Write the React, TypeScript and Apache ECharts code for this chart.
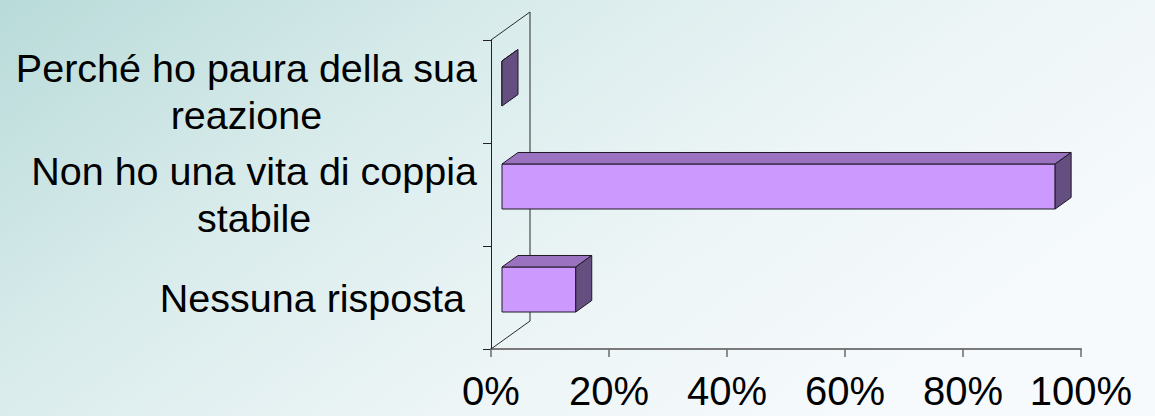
import React, { useEffect, useRef } from "react";
import * as echarts from "echarts";

const categories: string[] = [
  "Perché ho paura della sua\nreazione",
  "Non ho una vita di coppia\nstabile",
  "Nessuna risposta",
];
const values: number[] = [0, 93.75, 12.5];
const xTicks: number[] = [0, 20, 40, 60, 80, 100];

const FONT = "Liberation Sans, Arial, Helvetica, sans-serif";
const FRONT = "#CC99FF";
const TOP = "#9B72C0";
const SIDE = "#654E80";
const EDGE = "#1e1a24";

export default function App() {
  const ref = useRef<HTMLDivElement>(null);

  useEffect(() => {
    document.body.style.margin = "0";
    if (!ref.current) return;
    const chart = echarts.init(ref.current, null, { renderer: "svg" });

    const option: any = {
      animation: false,
      graphic: [
        {
          type: "rect",
          silent: true,
          z: -100,
          shape: { x: 0, y: 0, width: 1155, height: 416 },
          style: {
            fill: new echarts.graphic.LinearGradient(0, 0, 1, 0.5, [
              { offset: 0, color: "#b8dbd9" },
              { offset: 0.35, color: "#d8ebeb" },
              { offset: 0.7, color: "#edf5f6" },
              { offset: 1, color: "#f6fafd" },
            ]),
          },
        },
      ],
      grid: { left: 491, right: 74, top: 40, bottom: 67 },
      xAxis: {
        type: "value",
        min: xTicks[0],
        max: xTicks[xTicks.length - 1],
        interval: xTicks[1] - xTicks[0],
        axisLine: { show: true, lineStyle: { color: "#7a7a7a", width: 2 } },
        axisTick: { show: true, length: 8, lineStyle: { color: "#6a6a6a", width: 1.5 } },
        splitLine: { show: false },
        axisLabel: {
          formatter: "{value}%",
          fontFamily: FONT,
          fontSize: 40,
          lineHeight: 38,
          color: "#000",
          margin: 23,
        },
      },
      yAxis: {
        type: "category",
        inverse: true,
        data: categories,
        axisLine: { show: true, lineStyle: { color: "#222", width: 1 } },
        axisTick: { show: true, length: 8, lineStyle: { color: "#222", width: 1 } },
        splitLine: { show: false },
        axisLabel: {
          margin: 14,
          align: "right",
          formatter: (v: string) => {
            const lines = v.split("\n");
            const st = lines.length > 1 ? "c" : "n";
            return lines.map((l) => `{${st}|${l}}`).join("\n");
          },
          rich: {
            c: {
              fontFamily: FONT,
              fontSize: 39.5,
              lineHeight: 47,
              color: "#000",
              align: "center",
            },
            n: {
              fontFamily: FONT,
              fontSize: 39.5,
              lineHeight: 47,
              color: "#000",
              padding: [0, 12, 0, 0],
            },
          },
        },
      },
      series: [
        {
          type: "custom",
          name: "wall",
          silent: true,
          z: 1,
          data: [[0, 0]],
          renderItem: (params: any) => {
            const cs = params.coordSys;
            const DX = 39;
            const DY = -28;
            return {
              type: "polyline",
              shape: {
                points: [
                  [cs.x, cs.y],
                  [cs.x + DX, cs.y + DY],
                  [cs.x + DX, cs.y + cs.height + DY],
                  [cs.x, cs.y + cs.height],
                ],
              },
              style: { stroke: "#2a2a2a", lineWidth: 1, fill: "none" },
            };
          },
        },
        {
          type: "custom",
          name: "bars",
          z: 3,
          encode: { x: 0, y: 1 },
          data: values.map((v, i) => [v, i]),
          renderItem: (params: any, api: any) => {
            const v = api.value(0);
            const c = api.value(1);
            const p0 = api.coord([0, c]);
            const p1 = api.coord([v, c]);
            const band = api.size([0, 1])[1];
            const h = band * 0.437;
            const fx = 11;
            const fy = -8;
            const dx = 16;
            const dy = -11.5;
            const xl = p0[0] + fx;
            const xr = p1[0] + fx;
            const yc = p0[1] + fy;
            const yt = yc - h / 2;
            const yb = yc + h / 2;
            const st = (fill: string) => ({ fill, stroke: EDGE, lineWidth: 1, lineJoin: "round" });
            return {
              type: "group",
              children: [
                {
                  type: "polygon",
                  shape: { points: [[xl, yt], [xr, yt], [xr, yb], [xl, yb]] },
                  style: st(FRONT),
                },
                {
                  type: "polygon",
                  shape: { points: [[xl, yt], [xl + dx, yt + dy], [xr + dx, yt + dy], [xr, yt]] },
                  style: st(TOP),
                },
                {
                  type: "polygon",
                  shape: { points: [[xr, yt], [xr + dx, yt + dy], [xr + dx, yb + dy], [xr, yb]] },
                  style: st(SIDE),
                },
              ],
            };
          },
        },
      ],
    };

    chart.setOption(option);
    return () => chart.dispose();
  }, []);

  return <div ref={ref} style={{ width: 1155, height: 416 }} />;
}
